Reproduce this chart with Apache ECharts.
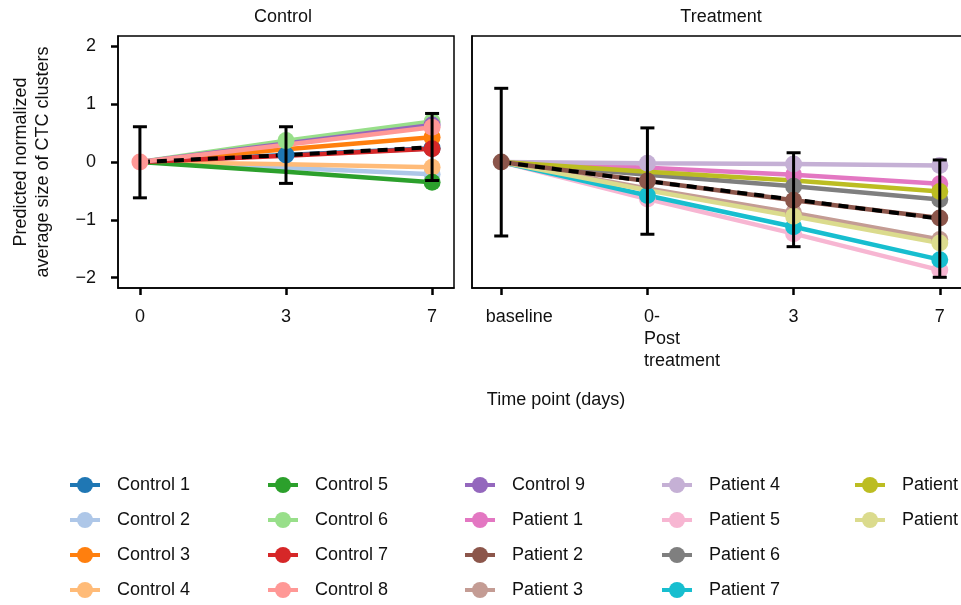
<!DOCTYPE html>
<html>
<head>
<meta charset="utf-8">
<script src="https://cdn.jsdelivr.net/npm/echarts@6/dist/echarts.min.js"></script>
<style>
  html, body { margin: 0; padding: 0; background: #fff; }
  #chart { width: 961px; height: 605px; }
</style>
</head>
<body>
<div id="chart"></div>
<script>
// tick labels
const controlDays = ['0', '3', '7']
const treatDays = ['baseline', '0-\nPost\ntreatment', '3', '7']
const yTicks = [-2, -1, 0, 1, 2]

// control subjects: day 0, 3, 7
const control1 = [0, 0.12, 0.24]
const control2 = [0, -0.10, -0.21]
const control3 = [0, 0.22, 0.43]
const control4 = [0, -0.04, -0.09]
const control5 = [0, -0.17, -0.35]
const control6 = [0, 0.37, 0.70]
const control7 = [0, 0.11, 0.23]
const control8 = [0, 0.30, 0.60]
const control9 = [0, 0.32, 0.64]
const controlMean = [0, 0.12, 0.255]
const controlErrLow = [-0.62, -0.37, -0.32]
const controlErrHigh = [0.61, 0.61, 0.84]

// patients: baseline, 0-post, day 3, day 7
const patient1 = [0, -0.10, -0.22, -0.375]
const patient2 = [0, -0.33, -0.66, -0.97]
const patient3 = [0, -0.46, -0.88, -1.34]
const patient4 = [0, -0.02, -0.035, -0.06]
const patient5 = [0, -0.64, -1.24, -1.87]
const patient6 = [0, -0.22, -0.42, -0.65]
const patient7 = [0, -0.58, -1.12, -1.69]
const patient8 = [0, -0.17, -0.32, -0.51]
const patient9 = [0, -0.49, -0.94, -1.40]
const patientMean = [0, -0.33, -0.65, -0.98]
const patientErrLow = [-1.28, -1.25, -1.465, -1.995]
const patientErrHigh = [1.275, 0.59, 0.16, 0.035]

const FONT = 'Liberation Sans, Arial, sans-serif'
const INK = '#111'

const chart = echarts.init(document.getElementById('chart'))

// marks: indexes of time points that get a dot
function subject(name, values, color, panel, marks) {
  return {
    name: name,
    type: 'line',
    xAxisIndex: panel,
    yAxisIndex: panel,
    data: values.map((v, i) => [i, v]),
    symbol: 'circle',
    symbolSize: (val, p) => marks.indexOf(p.dataIndex) >= 0 ? 17 : 0,
    showSymbol: true,
    itemStyle: { color: color },
    lineStyle: { color: color, width: 4.5 },
    emphasis: { disabled: true }
  }
}

function meanLine(values, panel) {
  return {
    type: 'line',
    xAxisIndex: panel,
    yAxisIndex: panel,
    data: values.map((v, i) => [i, v]),
    showSymbol: false,
    symbol: 'none',
    lineStyle: { color: '#000', width: 4, type: [10, 7] },
    emphasis: { disabled: true },
    z: 3
  }
}

function errorBars(low, high, panel) {
  return {
    type: 'custom',
    xAxisIndex: panel,
    yAxisIndex: panel,
    data: low.map((v, i) => [i, v, high[i]]),
    encode: { x: 0, y: [1, 2] },
    z: 4,
    renderItem: function (params, api) {
      const lo = api.coord([api.value(0), api.value(1)])
      const hi = api.coord([api.value(0), api.value(2)])
      const cap = 7
      const st = { stroke: '#000', lineWidth: 3 }
      return {
        type: 'group',
        children: [
          { type: 'line', shape: { x1: lo[0], y1: lo[1], x2: hi[0], y2: hi[1] }, style: st },
          { type: 'line', shape: { x1: lo[0] - cap, y1: lo[1], x2: lo[0] + cap, y2: lo[1] }, style: st },
          { type: 'line', shape: { x1: hi[0] - cap, y1: hi[1], x2: hi[0] + cap, y2: hi[1] }, style: st }
        ]
      }
    }
  }
}

function legendCol(left, names) {
  return {
    orient: 'vertical',
    left: left,
    top: 475,
    padding: 0,
    itemWidth: 30,
    itemHeight: 20,
    itemGap: 15,
    lineStyle: { width: 4 },
    textStyle: { fontFamily: FONT, fontSize: 18, color: INK, lineHeight: 20, padding: [0, 0, 0, 12] },
    data: names
  }
}

const axisBase = {
  axisLine: { show: true, onZero: false, lineStyle: { color: '#000', width: 1.5 } },
  axisTick: { show: true, length: 7, lineStyle: { color: '#000', width: 2.5 } },
  splitLine: { show: false }
}

chart.setOption({
  animation: false,
  graphic: [
    { type: 'text', x: 283, y: 17, style: { text: 'Control', fontFamily: FONT, fontSize: 18, fill: INK, textAlign: 'center', textVerticalAlign: 'middle' } },
    { type: 'text', x: 721, y: 17, style: { text: 'Treatment', fontFamily: FONT, fontSize: 18, fill: INK, textAlign: 'center', textVerticalAlign: 'middle' } },
    { type: 'text', x: 556, y: 400, style: { text: 'Time point (days)', fontFamily: FONT, fontSize: 18, fill: INK, textAlign: 'center', textVerticalAlign: 'middle' } }
  ],
  grid: [
    { left: 118, top: 36, width: 336, height: 252, outerBoundsMode: 'none', show: true, borderColor: '#000', borderWidth: 1.5, backgroundColor: 'transparent' },
    { left: 472, top: 36, width: 497, height: 252, outerBoundsMode: 'none', show: true, borderColor: '#000', borderWidth: 1.5, backgroundColor: 'transparent' }
  ],
  xAxis: [
    Object.assign({}, axisBase, {
      type: 'value', gridIndex: 0, min: -0.15, max: 2.15,
      axisTick: Object.assign({}, axisBase.axisTick, { customValues: [0, 1, 2] }),
      axisLabel: {
        customValues: [0, 1, 2], margin: 18, lineHeight: 22,
        fontFamily: FONT, fontSize: 18, color: INK,
        formatter: v => controlDays[Math.round(v)]
      }
    }),
    Object.assign({}, axisBase, {
      type: 'value', gridIndex: 1, min: -0.2, max: 3.2,
      axisTick: Object.assign({}, axisBase.axisTick, { customValues: [0, 1, 2, 3] }),
      axisLabel: {
        customValues: [0, 1, 2, 3], margin: 18, lineHeight: 22,
        fontFamily: FONT, fontSize: 18, color: INK,
        formatter: function (v) {
          const i = Math.round(v)
          if (i === 0) return '{b|' + treatDays[0] + '}'
          if (i === 1) return '{p|' + treatDays[1] + '}'
          return treatDays[i]
        },
        rich: {
          b: { fontFamily: FONT, fontSize: 18, color: INK, lineHeight: 22, padding: [0, 0, 0, 36] },
          p: { fontFamily: FONT, fontSize: 18, color: INK, lineHeight: 22, align: 'left', padding: [0, 0, 0, 69] }
        }
      }
    })
  ],
  yAxis: [
    Object.assign({}, axisBase, {
      type: 'value', gridIndex: 0, min: -2.18, max: 2.18,
      axisTick: Object.assign({}, axisBase.axisTick, { customValues: yTicks }),
      axisLabel: {
        customValues: yTicks, margin: 22,
        fontFamily: FONT, fontSize: 18, color: INK,
        formatter: v => String(Math.round(v)).replace('-', '\u2212')
      },
      name: 'Predicted normalized\naverage size of CTC clusters',
      nameLocation: 'middle',
      nameGap: 64,
      nameTextStyle: { fontFamily: FONT, fontSize: 18, color: INK, lineHeight: 22 }
    }),
    Object.assign({}, axisBase, {
      type: 'value', gridIndex: 1, min: -2.18, max: 2.18,
      axisTick: { show: false },
      axisLabel: { show: false }
    })
  ],
  legend: [
    legendCol(68, ['Control 1', 'Control 2', 'Control 3', 'Control 4']),
    legendCol(266, ['Control 5', 'Control 6', 'Control 7', 'Control 8']),
    legendCol(463, ['Control 9', 'Patient 1', 'Patient 2', 'Patient 3']),
    legendCol(660, ['Patient 4', 'Patient 5', 'Patient 6', 'Patient 7']),
    legendCol(853, ['Patient 8', 'Patient 9'])
  ],
  series: [
    subject('Control 1', control1, '#1f77b4', 0, [1, 2]),
    subject('Control 2', control2, '#aec7e8', 0, [2]),
    subject('Control 3', control3, '#ff7f0e', 0, [2]),
    subject('Control 4', control4, '#ffbb78', 0, [2]),
    subject('Control 5', control5, '#2ca02c', 0, [2]),
    subject('Control 6', control6, '#98df8a', 0, [1, 2]),
    subject('Control 7', control7, '#d62728', 0, [2]),
    subject('Control 9', control9, '#9467bd', 0, [2]),
    subject('Control 8', control8, '#ff9896', 0, [0, 2]),
    meanLine(controlMean, 0),
    errorBars(controlErrLow, controlErrHigh, 0),

    subject('Patient 1', patient1, '#e377c2', 1, [2, 3]),
    subject('Patient 3', patient3, '#c49c94', 1, [2, 3]),
    subject('Patient 4', patient4, '#c5b0d5', 1, [1, 2, 3]),
    subject('Patient 5', patient5, '#f7b6d2', 1, [1, 2, 3]),
    subject('Patient 6', patient6, '#7f7f7f', 1, [2, 3]),
    subject('Patient 7', patient7, '#17becf', 1, [1, 2, 3]),
    subject('Patient 8', patient8, '#bcbd22', 1, [3]),
    subject('Patient 9', patient9, '#dbdb8d', 1, [2, 3]),
    subject('Patient 2', patient2, '#8c564b', 1, [0, 1, 2, 3]),
    meanLine(patientMean, 1),
    errorBars(patientErrLow, patientErrHigh, 1)
  ]
})
</script>
</body>
</html>
